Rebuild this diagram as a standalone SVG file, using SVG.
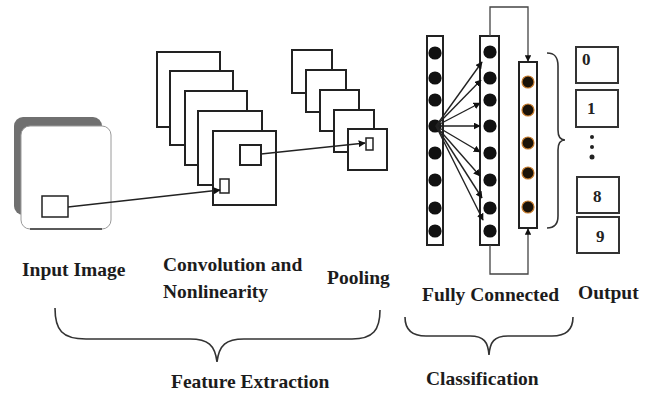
<svg xmlns="http://www.w3.org/2000/svg" width="654" height="397" viewBox="0 0 654 397">
  <style>
    .lbl { font-family: "Liberation Serif", "Times New Roman", serif; font-weight: bold; font-size: 19.5px; fill: #1c1c1c; }
    .dig { font-family: "Liberation Serif", "Times New Roman", serif; font-weight: bold; font-size: 17px; fill: #222; }
    .map { fill: #fff; stroke: #222; stroke-width: 2; }
    .col { fill: #fff; stroke: #222; stroke-width: 2; }
    .box { fill: #fff; stroke: #333; stroke-width: 2; }
    .node { fill: #111; }
    .node2 { fill: #1a1208; stroke: #c47a2c; stroke-width: 1.2; }
    .link { fill: none; stroke: #222; stroke-width: 1.4; }
    .wire { fill: none; stroke: #444; stroke-width: 1.3; }
    .brace { fill: none; stroke: #333; stroke-width: 1.6; }
  </style>
  <defs>
    <marker id="arrow" viewBox="0 0 10 10" refX="9" refY="5" markerWidth="5" markerHeight="5" orient="auto">
      <path d="M0,0 L10,5 L0,10 z" fill="#111"/>
    </marker>
  </defs>
  <rect width="654" height="397" fill="#fff"/>

  <!-- input image card -->
  <g id="input-image">
    <rect x="14" y="117" width="88" height="98" rx="9" fill="#707070"/>
    <rect x="21" y="126" width="90" height="103" rx="9" fill="#fff" stroke="#9a9a9a" stroke-width="1"/>
    <path d="M30,229 L102,229" stroke="#333" stroke-width="1.5"/>
    <rect x="42" y="196" width="26" height="21" fill="#fff" stroke="#222" stroke-width="1.5"/>
  </g>

  <!-- convolution feature maps -->
  <g id="convolution">
    <rect class="map" x="157" y="52" width="63" height="75"/>
    <rect class="map" x="170" y="71" width="63" height="74"/>
    <rect class="map" x="185" y="91" width="62" height="74"/>
    <rect class="map" x="198" y="111" width="64" height="74"/>
    <rect class="map" x="213" y="131" width="63" height="74"/>
    <rect x="240" y="145" width="21" height="20" fill="#fff" stroke="#222" stroke-width="2"/>
    <rect x="220" y="179" width="9" height="14" fill="#fff" stroke="#222" stroke-width="1.5"/>
  </g>

  <!-- pooled maps -->
  <g id="pooling">
    <rect class="map" x="292" y="50" width="40" height="43"/>
    <rect class="map" x="306" y="70" width="40" height="42"/>
    <rect class="map" x="320" y="90" width="39" height="41"/>
    <rect class="map" x="334" y="110" width="40" height="42"/>
    <rect class="map" x="348" y="129" width="39" height="41"/>
    <rect x="366" y="138" width="7" height="12" fill="#fff" stroke="#222" stroke-width="1.5"/>
  </g>

  <!-- fully connected layers -->
  <g id="fc-layer1">
    <rect class="col" x="427" y="36" width="16" height="209"/>
    <circle class="node" cx="435" cy="53" r="6.6"/>
    <circle class="node" cx="435" cy="78" r="6.6"/>
    <circle class="node" cx="435" cy="100" r="6.6"/>
    <circle class="node" cx="435" cy="126" r="6.6"/>
    <circle class="node" cx="435" cy="153" r="6.6"/>
    <circle class="node" cx="435" cy="180" r="6.6"/>
    <circle class="node" cx="435" cy="208" r="6.6"/>
    <circle class="node" cx="435" cy="231" r="6.6"/>
  </g>
  <g id="fc-layer2">
    <rect class="col" x="480" y="36" width="19" height="209"/>
    <circle class="node" cx="490" cy="52" r="6.6"/>
    <circle class="node" cx="490" cy="78" r="6.6"/>
    <circle class="node" cx="490" cy="100" r="6.6"/>
    <circle class="node" cx="490" cy="126" r="6.6"/>
    <circle class="node" cx="490" cy="153" r="6.6"/>
    <circle class="node" cx="490" cy="180" r="6.6"/>
    <circle class="node" cx="490" cy="208" r="6.6"/>
    <circle class="node" cx="490" cy="231" r="6.6"/>
  </g>
  <g id="fc-layer3">
    <rect class="col" x="519" y="62" width="18" height="166"/>
    <circle class="node2" cx="528" cy="82" r="6"/>
    <circle class="node2" cx="528" cy="110" r="6"/>
    <circle class="node2" cx="528" cy="143" r="6"/>
    <circle class="node2" cx="528" cy="173" r="6"/>
    <circle class="node2" cx="528" cy="207" r="6"/>
  </g>

  <!-- output classes -->
  <g id="out-0">
    <rect class="box" x="576" y="47" width="42" height="36"/>
    <text class="dig" x="582" y="65">0</text>
  </g>
  <g id="out-1">
    <rect class="box" x="576" y="90" width="42" height="37"/>
    <text class="dig" x="587" y="114">1</text>
  </g>
  <g id="out-dots">
    <circle cx="592" cy="137" r="2" fill="#222"/>
    <circle cx="592" cy="147" r="2" fill="#222"/>
    <circle cx="592" cy="157" r="2.5" fill="#222"/>
  </g>
  <g id="out-8">
    <rect class="box" x="577" y="177" width="42" height="36"/>
    <text class="dig" x="593" y="202">8</text>
  </g>
  <g id="out-9">
    <rect class="box" x="577" y="217" width="42" height="36"/>
    <text class="dig" x="596" y="242">9</text>
  </g>

  <!-- connectors -->
  <g id="connectors">
    <path class="link" d="M68,207 L220,190" marker-end="url(#arrow)"/>
    <path class="link" d="M261,154 L365,143" marker-end="url(#arrow)"/>
    <path class="link" d="M436,126 L482,62" marker-end="url(#arrow)"/>
    <path class="link" d="M436,126 L481,80" marker-end="url(#arrow)"/>
    <path class="link" d="M436,126 L480,103" marker-end="url(#arrow)"/>
    <path class="link" d="M436,126 L480,126" marker-end="url(#arrow)"/>
    <path class="link" d="M436,126 L480,152" marker-end="url(#arrow)"/>
    <path class="link" d="M436,126 L480,176" marker-end="url(#arrow)"/>
    <path class="link" d="M436,126 L482,198" marker-end="url(#arrow)"/>
    <path class="link" d="M436,126 L483,220" marker-end="url(#arrow)"/>
    <path class="wire" d="M490,36 L490,7 L528,7 L528,61" marker-end="url(#arrow)"/>
    <path class="wire" d="M490,245 L490,274 L528,274 L528,229" marker-end="url(#arrow)"/>
  </g>

  <!-- braces -->
  <g id="brace-output">
    <path class="brace" d="M547,53 C555,53 558,57 558,66 L558,130 C558,137 561,140 565,140 C561,140 558,143 558,150 L558,216 C558,224 555,228 547,228"/>
  </g>
  <g id="brace-features">
    <path class="brace" d="M55,308 C55,330 62,339 86,339 L190,339 C208,339 215,345 217,362 C219,345 226,339 244,339 L352,339 C373,339 380,330 380,310"/>
  </g>
  <g id="brace-classification">
    <path class="brace" d="M405,317 C405,330 412,336 426,336 L470,336 C484,336 488,342 489,355 C490,342 494,336 508,336 L552,336 C566,336 573,330 573,317"/>
  </g>

  <!-- labels -->
  <g id="labels">
    <text class="lbl" x="22" y="276">Input Image</text>
    <text class="lbl" x="163" y="271">Convolution and</text>
    <text class="lbl" x="163" y="298">Nonlinearity</text>
    <text class="lbl" x="327" y="284">Pooling</text>
    <text class="lbl" x="422" y="301">Fully Connected</text>
    <text class="lbl" x="578" y="299">Output</text>
    <text class="lbl" x="171" y="388">Feature Extraction</text>
    <text class="lbl" x="426" y="385">Classification</text>
  </g>
</svg>
